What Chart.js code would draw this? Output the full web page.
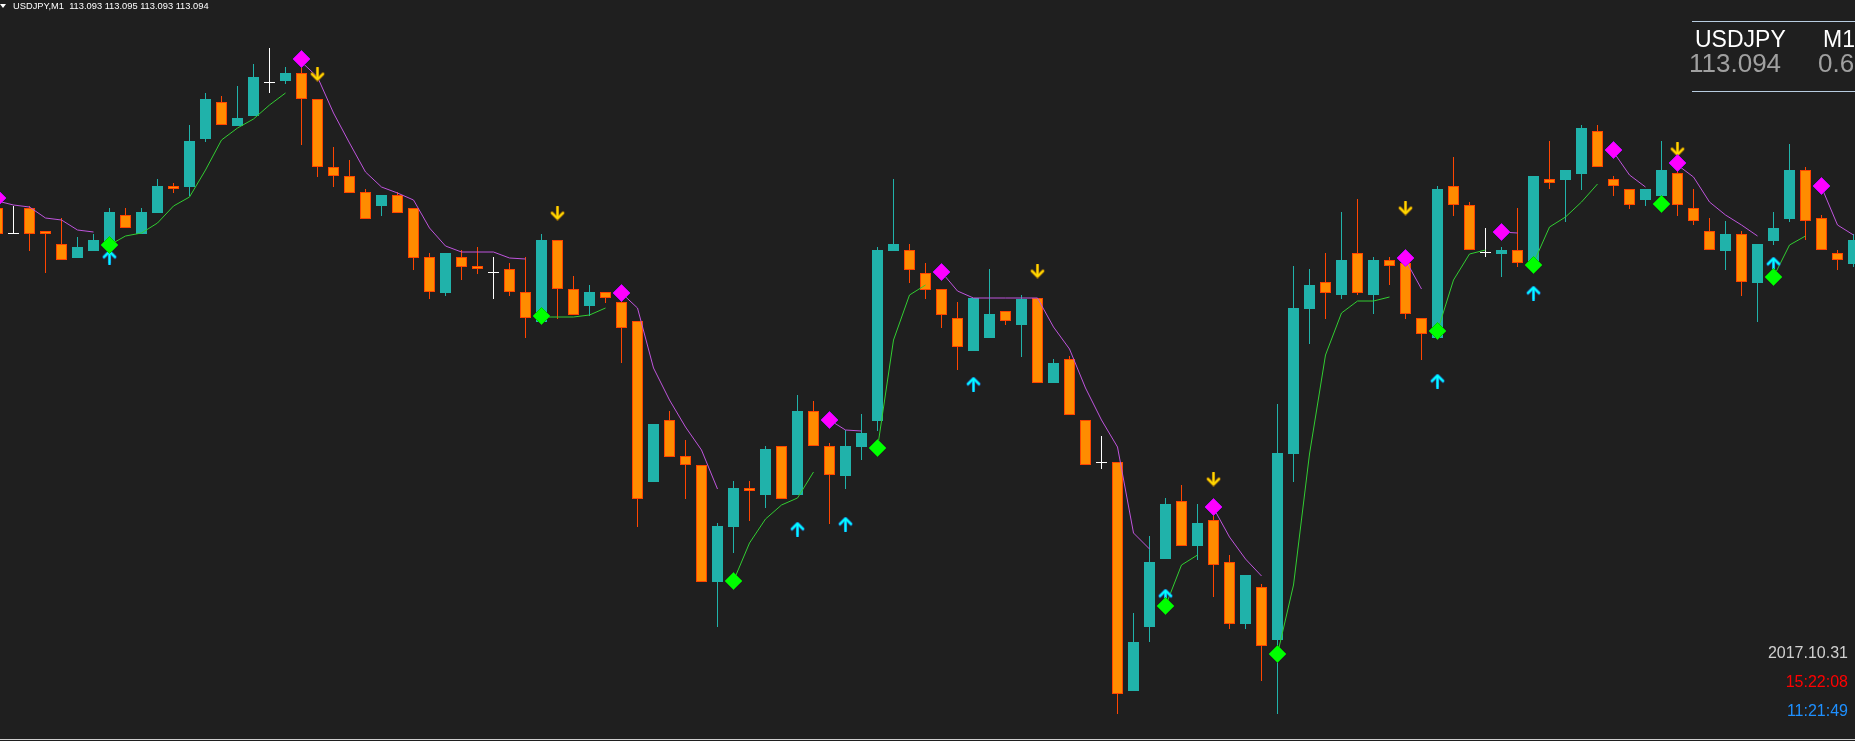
<!DOCTYPE html>
<html lang="en">
<head>
<meta charset="UTF-8">
<title>USDJPY,M1</title>
<style>
body { margin: 0; background: #1f1f1f; overflow: hidden; }
#wrap { position: relative; width: 1855px; height: 741px; font-family: 'Liberation Sans', Arial, sans-serif; }
#chart { position: absolute; left: 0; top: 0; }
.txt { position: absolute; white-space: pre; }
#tri { position: absolute; left: 0; top: 4px; width: 0; height: 0; border-left: 3.5px solid transparent; border-right: 3.5px solid transparent; border-top: 4px solid #fff; }
#title { left: 13px; top: 2px; font-size: 9.3px; line-height: 9.3px; color: #fff; }
.rule { position: absolute; left: 1692px; width: 163px; height: 1px; background: #b8cce0; }
#sym, #tf { top: 28px; font-size: 23px; line-height: 23px; color: #fff; }
#sym { left: 1695px; }
#tf { left: 1823px; }
#bid, #spr { top: 50px; font-size: 26px; line-height: 26px; color: #a0a0a0; }
#bid { left: 1689px; }
#spr { left: 1818px; }
.clock { right: 7px; font-size: 16px; line-height: 16px; }
#date { top: 645px; color: #d0d0d0; }
#srv { top: 674px; color: #ff0000; }
#loc { top: 703px; color: #1e90ff; }
#bottom { position: absolute; left: 0; top: 739px; width: 1855px; height: 1px; background: #d0d0d0; }
</style>
</head>
<body>
<div id="wrap">
  <canvas id="chart" width="1855" height="741"></canvas>
  <div id="tri"></div>
  <div class="txt" id="title">USDJPY,M1  113.093 113.095 113.093 113.094</div>
  <div class="rule" style="top:21px"></div>
  <div class="txt" id="sym">USDJPY</div>
  <div class="txt" id="tf">M1</div>
  <div class="txt" id="bid">113.094</div>
  <div class="txt" id="spr">0.6</div>
  <div class="rule" style="top:91px"></div>
  <div class="txt clock" id="date">2017.10.31</div>
  <div class="txt clock" id="srv">15:22:08</div>
  <div class="txt clock" id="loc">11:21:49</div>
  <div id="bottom"></div>
</div>

<script src="https://cdn.jsdelivr.net/npm/chart.js"></script>
<script>
// M1 candles, oldest first
const opens = [
  113.126,113.100,113.126,113.103,113.090,113.076,113.083,113.093,113.119,113.100,
  113.121,113.148,113.147,113.195,113.232,113.208,113.218,113.251,113.253,113.261,
  113.235,113.167,113.158,113.142,113.128,113.139,113.126,113.077,113.041,113.077,
  113.068,113.061,113.065,113.042,113.012,113.094,113.045,113.028,113.042,113.032,
  113.013,112.852,112.914,112.878,112.869,112.752,112.807,112.846,112.839,112.888,
  112.839,112.923,112.888,112.858,112.887,112.913,113.083,113.084,113.061,113.045,
  113.016,112.983,112.996,113.023,113.009,113.036,112.951,112.975,112.914,112.871,
  112.872,112.643,112.707,112.775,112.833,112.788,112.814,112.772,112.710,112.747,
  112.694,112.880,113.025,113.052,113.039,113.081,113.039,113.074,113.071,113.016,
  112.996,113.148,113.129,113.081,113.080,113.084,113.072,113.155,113.154,113.160,
  113.203,113.155,113.145,113.134,113.138,113.161,113.126,113.103,113.083,113.100,
  113.051,113.093,113.115,113.164,113.116,113.081,113.070
];
const highs = [
  113.129,113.128,113.128,113.103,113.116,113.097,113.100,113.126,113.126,113.126,
  113.155,113.151,113.209,113.241,113.238,113.248,113.270,113.286,113.267,113.267,
  113.235,113.187,113.174,113.145,113.139,113.142,113.126,113.081,113.081,113.084,
  113.087,113.077,113.071,113.077,113.100,113.094,113.058,113.049,113.042,113.035,
  113.013,112.910,112.923,112.894,112.869,112.811,112.853,112.853,112.888,112.888,
  112.939,112.933,112.891,112.904,112.920,113.087,113.155,113.090,113.071,113.045,
  113.032,113.036,113.065,113.023,113.039,113.036,112.975,112.978,112.914,112.898,
  112.872,112.721,112.798,112.836,112.849,112.830,112.819,112.779,112.759,112.750,
  112.930,113.068,113.065,113.081,113.122,113.135,113.077,113.077,113.076,113.016,
  113.148,113.177,113.132,113.106,113.087,113.126,113.158,113.193,113.164,113.209,
  113.209,113.158,113.145,113.145,113.193,113.169,113.145,113.116,113.113,113.103,
  113.090,113.122,113.190,113.167,113.119,113.084,113.100
];
const lows = [
  113.094,113.100,113.083,113.061,113.074,113.076,113.083,113.091,113.106,113.100,
  113.121,113.141,113.138,113.192,113.209,113.208,113.218,113.241,113.250,113.189,
  113.157,113.147,113.141,113.115,113.118,113.121,113.064,113.035,113.038,113.054,
  113.060,113.035,113.038,112.996,113.012,113.015,113.019,113.018,113.031,112.971,
  112.807,112.852,112.877,112.835,112.752,112.707,112.781,112.813,112.826,112.835,
  112.839,112.888,112.810,112.845,112.874,112.903,113.083,113.051,113.035,113.006,
  112.964,112.983,112.996,113.009,112.977,112.951,112.951,112.919,112.869,112.865,
  112.620,112.643,112.692,112.775,112.788,112.774,112.737,112.705,112.705,112.653,
  112.620,112.852,112.990,113.015,113.035,113.039,113.020,113.049,113.015,112.974,
  112.996,113.118,113.084,113.077,113.057,113.067,113.072,113.145,113.112,113.144,
  113.167,113.138,113.125,113.128,113.134,113.118,113.109,113.084,113.064,113.038,
  113.012,113.089,113.112,113.094,113.084,113.064,113.067
];
const closes = [
  113.100,113.100,113.100,113.100,113.074,113.087,113.094,113.122,113.106,113.122,
  113.148,113.145,113.193,113.235,113.209,113.216,113.257,113.251,113.261,113.235,
  113.167,113.158,113.141,113.115,113.139,113.121,113.076,113.042,113.081,113.067,
  113.065,113.061,113.042,113.016,113.094,113.045,113.019,113.042,113.036,113.006,
  112.835,112.910,112.877,112.869,112.752,112.808,112.846,112.843,112.885,112.835,
  112.923,112.888,112.859,112.888,112.901,113.084,113.090,113.064,113.044,113.019,
  112.987,113.036,113.020,113.013,113.035,112.951,112.971,112.919,112.869,112.871,
  112.640,112.692,112.772,112.830,112.788,112.811,112.769,112.710,112.759,112.688,
  112.881,113.026,113.049,113.041,113.074,113.041,113.074,113.068,113.020,113.000,
  113.145,113.129,113.084,113.081,113.084,113.071,113.158,113.151,113.164,113.206,
  113.167,113.148,113.129,113.145,113.164,113.129,113.113,113.084,113.100,113.052,
  113.090,113.106,113.164,113.113,113.084,113.074,113.094
];

// trailing lines of the signal indicator (null = no line on that bar)
const downLine = [
  113.133,113.129,113.127,113.116,113.114,113.104,113.102,null,null,null,
  null,null,null,null,null,null,null,null,null,113.272,
  113.257,113.221,113.191,113.162,113.147,113.141,113.134,113.106,113.088,113.082,
  113.082,113.082,113.076,113.075,null,null,null,null,null,113.041,
  113.026,112.966,112.934,112.907,112.884,112.845,null,null,null,null,
  null,null,112.914,112.904,112.903,null,null,null,null,113.062,
  113.043,113.036,113.036,113.036,113.036,113.036,113.007,112.985,112.946,112.914,
  112.887,112.801,112.785,null,null,null,112.826,112.797,112.775,112.758,
  null,null,null,null,null,null,null,null,113.074,113.045,
  null,null,null,null,113.102,113.101,null,null,null,null,
  null,113.182,113.159,113.147,null,113.169,113.157,113.132,113.119,113.109,
  113.098,null,null,null,113.147,113.109,113.099
];
const upLine = [
  null,null,null,null,null,null,null,113.089,113.098,113.101,
  113.111,113.128,113.137,113.164,113.194,113.206,113.215,113.229,113.241,null,
  null,null,null,null,null,null,null,null,null,null,
  null,null,null,null,113.017,113.017,113.017,113.019,113.026,null,
  null,null,null,null,null,null,112.753,112.791,112.815,112.829,
  112.836,112.862,null,null,null,112.886,112.994,113.039,113.049,null,
  null,null,null,null,null,null,null,null,null,null,
  null,null,null,112.728,112.769,112.779,null,null,null,null,
  112.680,112.749,112.880,112.979,113.021,113.033,113.033,113.037,null,null,
  113.003,113.054,113.080,113.084,null,null,113.071,113.107,113.117,113.132,
  113.150,null,null,null,null,null,null,null,null,null,
  null,113.057,113.089,113.098,null,null,null
];

// signal markers: bar index and price
const sellBars = [0, 19, 39, 52, 59, 76, 88, 94, 101, 105, 114];
const sellPrices = [113.136, 113.275, 113.041, 112.914, 113.062, 112.827, 113.076, 113.102, 113.184, 113.171, 113.148];
const buyBars = [7, 34, 46, 55, 73, 80, 90, 96, 104, 111];
const buyPrices = [113.089, 113.018, 112.753, 112.886, 112.728, 112.680, 113.003, 113.069, 113.130, 113.057];
const downArrowBars = [20, 35, 65, 76, 88, 105];
const downArrowPrices = [113.260, 113.121, 113.063, 112.855, 113.126, 113.185];
const upArrowBars = [7, 50, 53, 61, 73, 90, 96, 111];
const upArrowPrices = [113.077, 112.805, 112.810, 112.950, 112.738, 112.953, 113.041, 113.070];

const BULL = '#20b2aa', BEAR_FILL = '#ff8c00', BEAR_EDGE = '#ff4500', DOJI = '#ffffff';

const bars = opens.map((o, i) => i);
const dir = bars.map(i => closes[i] > opens[i] ? 1 : (closes[i] < opens[i] ? -1 : 0));
const pick = (up, down, flat) => dir.map(d => d > 0 ? up : (d < 0 ? down : flat));

// wingdings-like arrow drawn once, used as a point style
function arrowImage(color, edge, up) {
    const c = document.createElement('canvas');
    c.width = 15; c.height = 15;
    const g = c.getContext('2d');
    g.lineCap = 'round';
    g.lineJoin = 'round';
    const path = () => {
        g.beginPath();
        if (up) {
            g.moveTo(7.5, 14); g.lineTo(7.5, 2);
            g.moveTo(2, 7.5); g.lineTo(7.5, 2); g.lineTo(13, 7.5);
        } else {
            g.moveTo(7.5, 1); g.lineTo(7.5, 13);
            g.moveTo(2, 7.5); g.lineTo(7.5, 13); g.lineTo(13, 7.5);
        }
    };
    path(); g.strokeStyle = edge; g.lineWidth = 3.2; g.stroke();
    path(); g.strokeStyle = color; g.lineWidth = 2; g.stroke();
    return c;
}

const markers = (idx, prices) => idx.map((b, k) => ({ x: b, y: prices[k] }));
const series = vals => bars.map(i => ({ x: i, y: vals[i] }));

new Chart(document.getElementById('chart'), {
    type: 'bar',
    data: {
        datasets: [
            {
                label: 'wicks',
                data: bars.map(i => ({ x: i, y: [lows[i], highs[i]] })),
                backgroundColor: pick(BULL, BEAR_EDGE, DOJI),
                borderWidth: 0,
                inflateAmount: 0,
                grouped: false,
                barPercentage: 1,
                categoryPercentage: 1,
                maxBarThickness: 1,
                order: 8
            },
            {
                label: 'bodies',
                data: bars.map(i => ({ x: i, y: [opens[i], closes[i]] })),
                backgroundColor: pick(BULL, BEAR_FILL, DOJI),
                borderColor: pick(BULL, BEAR_EDGE, DOJI),
                borderWidth: 1,
                borderSkipped: false,
                inflateAmount: 0,
                minBarLength: 1,
                grouped: false,
                barPercentage: 1,
                categoryPercentage: 1,
                maxBarThickness: 11,
                order: 7
            },
            {
                type: 'line',
                label: 'down trail',
                data: series(downLine),
                borderColor: '#bf55dd',
                borderWidth: 1,
                pointRadius: 0,
                tension: 0,
                spanGaps: false,
                order: 5
            },
            {
                type: 'line',
                label: 'up trail',
                data: series(upLine),
                borderColor: '#32cd32',
                borderWidth: 1,
                pointRadius: 0,
                tension: 0,
                spanGaps: false,
                order: 5
            },
            {
                type: 'line',
                label: 'up arrows',
                data: markers(upArrowBars, upArrowPrices),
                showLine: false,
                pointStyle: arrowImage('#00ffff', '#1a6fd0', true),
                pointRadius: 7,
                order: 3
            },
            {
                type: 'line',
                label: 'down arrows',
                data: markers(downArrowBars, downArrowPrices),
                showLine: false,
                pointStyle: arrowImage('#ffd700', '#a06a00', false),
                pointRadius: 7,
                order: 3
            },
            {
                type: 'line',
                label: 'sell',
                data: markers(sellBars, sellPrices),
                showLine: false,
                pointStyle: 'rectRot',
                pointRadius: 8.5,
                pointBackgroundColor: '#ff00ff',
                pointBorderColor: '#c000ff',
                pointBorderWidth: 1,
                order: 1
            },
            {
                type: 'line',
                label: 'buy',
                data: markers(buyBars, buyPrices),
                showLine: false,
                pointStyle: 'rectRot',
                pointRadius: 8.5,
                pointBackgroundColor: '#00ff00',
                pointBorderColor: '#00d000',
                pointBorderWidth: 1,
                order: 1
            }
        ]
    },
    options: {
        responsive: false,
        animation: false,
        events: [],
        layout: { padding: 0, autoPadding: false },
        plugins: { legend: { display: false }, tooltip: { enabled: false } },
        scales: {
            // 16px per bar, first bar centred just left of the canvas edge
            x: { type: 'linear', display: false, offset: false, min: 0.15625, max: 116.09375 },
            y: { type: 'linear', display: false, min: 112.593, max: 113.334 }
        }
    }
});
</script>
</body>
</html>
